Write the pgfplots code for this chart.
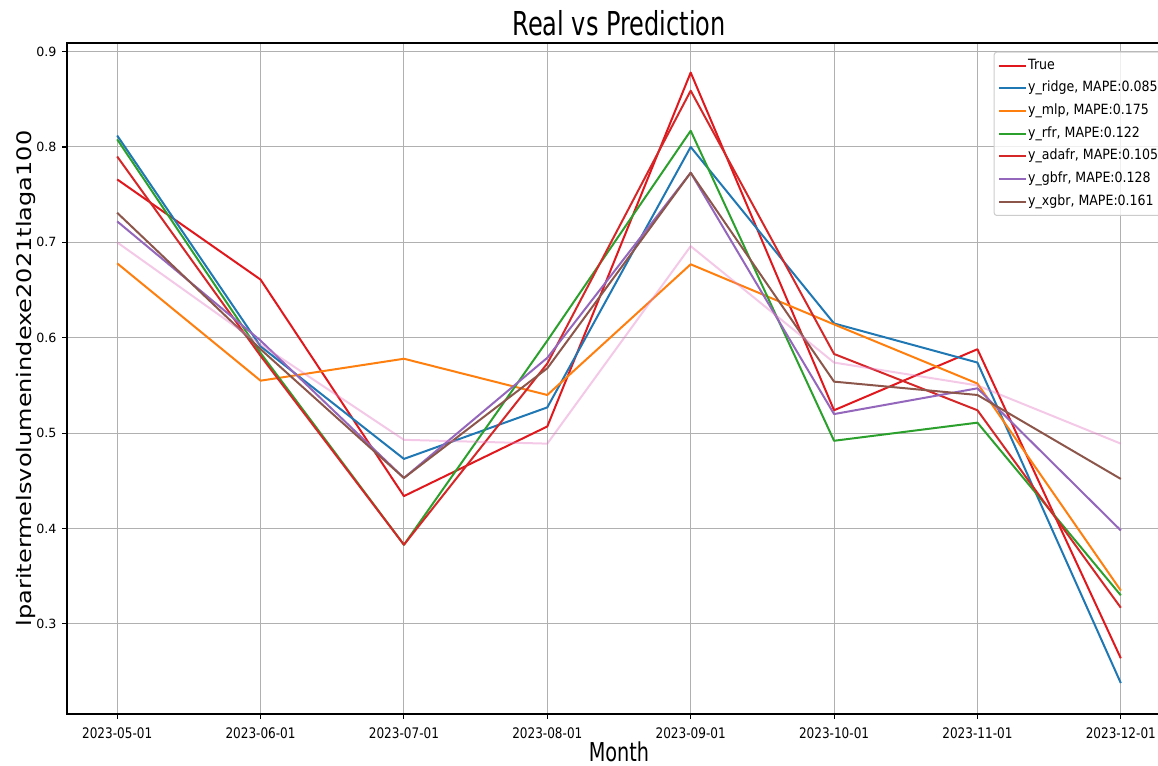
\documentclass[border=0pt]{standalone}
\usepackage{fontspec}
\setmainfont{DejaVu Sans}
\usepackage{graphicx}
\usepackage{pgfplots}
\pgfplotsset{compat=1.18}
\newcommand{\sx}[1]{\scalebox{0.83}[1]{#1}}
\newcommand{\legtxt}[1]{\scalebox{0.89}[1]{#1}}
\definecolor{cTrue}{HTML}{E0181D}
\definecolor{cRidge}{HTML}{1F77B4}
\definecolor{cMlp}{HTML}{FF7F0E}
\definecolor{cRfr}{HTML}{2CA02C}
\definecolor{cAda}{HTML}{D62728}
\definecolor{cGb}{HTML}{9467BD}
\definecolor{cXgb}{HTML}{8C564B}
\definecolor{cPink}{HTML}{E377C2}
\definecolor{gridgray}{HTML}{B0B0B0}
\definecolor{leggray}{HTML}{CCCCCC}
\pgfplotstableread{
x true ridge mlp rfr ada gb xgb pink
0 0.766 0.812 0.678 0.808 0.790 0.722 0.731 0.700
1 0.661 0.591 0.555 0.584 0.581 0.597 0.588 0.593
2 0.434 0.473 0.578 0.383 0.383 0.453 0.453 0.493
3 0.507 0.527 0.540 0.597 0.573 0.579 0.568 0.489
4 0.878 0.800 0.677 0.817 0.859 0.773 0.773 0.696
5 0.524 0.615 0.614 0.492 0.583 0.520 0.554 0.574
6 0.588 0.574 0.552 0.511 0.524 0.547 0.540 0.550
7 0.264 0.238 0.335 0.330 0.317 0.398 0.452 0.489
}\data
\begin{document}
\begin{tikzpicture}
\useasboundingbox (0,0) rectangle (868.5pt,574.5pt);
\clip (0,0) rectangle (868.5pt,574.5pt);
\begin{axis}[
  at={(50.25pt,39pt)}, anchor=south west,
  scale only axis, width=828pt, height=503.25pt,
  xmin=-0.35, xmax=7.35, ymin=0.2056, ymax=0.909,
  xtick={0,1,2,3,4,5,6,7},
  xticklabels={\sx{2023-05-01},\sx{2023-06-01},\sx{2023-07-01},\sx{2023-08-01},\sx{2023-09-01},\sx{2023-10-01},\sx{2023-11-01},\sx{2023-12-01}},
  ytick={0.3,0.4,0.5,0.6,0.7,0.8,0.9},
  yticklabels={0.3,0.4,0.5,0.6,0.7,0.8,0.9},
  xticklabel style={anchor=base, yshift=-15pt, font=\fontsize{10.9}{12}\selectfont},
  yticklabel style={anchor=east, inner sep=0pt, xshift=-4pt, font=\fontsize{9.5}{11}\selectfont},
  grid=major, grid style={color=gridgray, line width=0.8pt},
  axis line style={line width=0.83pt, black},
  tick pos=left, tick align=outside, major tick length=3.65pt,
  tick style={line width=0.83pt, black},
  title={\scalebox{0.73}[1]{Real vs Prediction}},
  title style={at={(axis description cs:0.5,1)}, anchor=base, yshift=-0.75pt, inner sep=0pt, font=\fontsize{24.7}{28}\selectfont},
  xlabel={\scalebox{0.74}[1]{Month}},
  xlabel style={at={(axis description cs:0.5,-0.071)}, anchor=base, inner sep=0pt, font=\fontsize{19.5}{22}\selectfont},
  ylabel={\scalebox{1.2}[1]{lparitermelsvolumenindexe2021tlaga100}},
  ylabel style={at={(axis description cs:-0.037,0.5)}, anchor=center, inner sep=0pt, font=\fontsize{15}{17}\selectfont},
  legend cell align=left,
  legend image code/.code={\draw[#1] (0pt,0pt) -- (20pt,0pt);},
  legend style={at={(axis description cs:1,1)}, anchor=north east, xshift=-5.25pt, yshift=-6.5pt,
    draw=leggray, line width=0.75pt, rounded corners=2pt, fill=white, fill opacity=0.8, text opacity=1,
    font=\fontsize{10.6}{12}\selectfont, row sep=5pt, inner xsep=3pt, inner ysep=4.25pt,
    nodes={inner sep=1pt, text height=7.5pt, text depth=2.5pt}},
  every axis plot/.append style={line width=1.5pt, line join=round},
]
\addplot[cTrue] table[x=x,y=true]{\data}; \addlegendentry{\legtxt{True}}
\addplot[cRidge] table[x=x,y=ridge]{\data}; \addlegendentry{\legtxt{y\_ridge, MAPE:0.085}}
\addplot[cMlp] table[x=x,y=mlp]{\data}; \addlegendentry{\legtxt{y\_mlp, MAPE:0.175}}
\addplot[cRfr] table[x=x,y=rfr]{\data}; \addlegendentry{\legtxt{y\_rfr, MAPE:0.122}}
\addplot[cAda] table[x=x,y=ada]{\data}; \addlegendentry{\legtxt{y\_adafr, MAPE:0.105}}
\addplot[cGb] table[x=x,y=gb]{\data}; \addlegendentry{\legtxt{y\_gbfr, MAPE:0.128}}
\addplot[cXgb] table[x=x,y=xgb]{\data}; \addlegendentry{\legtxt{y\_xgbr, MAPE:0.161}}
\addplot[cPink, opacity=0.4, forget plot] table[x=x,y=pink]{\data};
\end{axis}
\end{tikzpicture}
\end{document}
